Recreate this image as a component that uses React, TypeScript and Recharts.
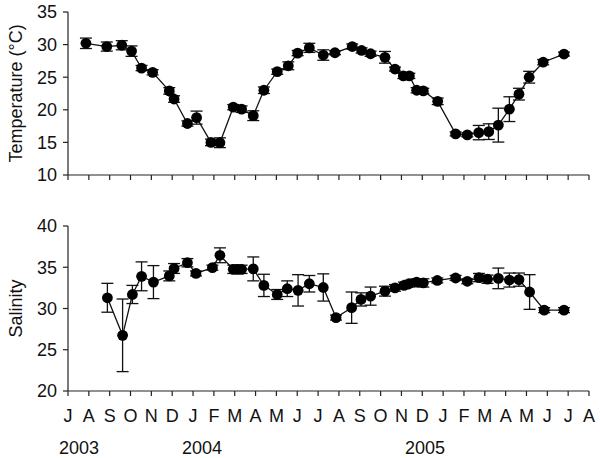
import React from 'react';
import { LineChart, Line, XAxis, YAxis, ErrorBar } from 'recharts';

const monthLabels = ['J','A','S','O','N','D','J','F','M','A','M','J','J','A','S','O','N','D','J','F','M','A','M','J','J','A'];
const monthTicks = monthLabels.map((_, i) => i);
const yearLabels = ['2003', '2004', '2005'];
const yearTicks = [0.53, 6.43, 17.13];

const tempMonths = [0.86, 1.86, 2.58, 3.05, 3.53, 4.06, 4.86, 5.09, 5.73, 6.17, 6.86, 7.29, 7.93, 8.33, 8.89, 9.4, 10.04, 10.57, 11.02, 11.58, 12.25, 12.81, 13.64, 14.09, 14.52, 15.21, 15.69, 16.09, 16.38, 16.73, 17.05, 17.74, 18.6, 19.16, 19.71, 20.19, 20.65, 21.18, 21.64, 22.13, 22.8, 23.8];
const tempValues = [30.2, 29.7, 29.9, 29.0, 26.4, 25.75, 22.9, 21.65, 17.9, 18.8, 15.0, 14.95, 20.4, 20.1, 19.1, 23.0, 25.85, 26.75, 28.7, 29.5, 28.4, 28.75, 29.7, 29.1, 28.6, 28.05, 26.25, 25.2, 25.2, 23.0, 22.9, 21.3, 16.3, 16.15, 16.5, 16.65, 17.65, 20.1, 22.4, 25.0, 27.3, 28.55];
const tempErrors = [0.8, 0.7, 0.7, 0.8, 0.4, 0.4, 0.5, 0.5, 0.4, 1.0, 0.5, 0.75, 0.4, 0.5, 0.75, 0.5, 0.4, 0.6, 0.4, 0.7, 0.8, 0.3, 0.4, 0.4, 0.4, 0.9, 0.3, 0.4, 0.4, 0.4, 0.4, 0.5, 0.3, 0.3, 1.1, 1.2, 2.6, 1.9, 0.9, 0.9, 0.4, 0.3];

const salMonths = [1.89, 2.62, 3.09, 3.53, 4.1, 4.86, 5.09, 5.73, 6.14, 6.93, 7.29, 7.93, 8.13, 8.33, 8.89, 9.4, 10.04, 10.52, 11.04, 11.58, 12.25, 12.86, 13.61, 14.06, 14.52, 15.21, 15.69, 16.12, 16.36, 16.73, 17.05, 17.72, 18.6, 19.16, 19.72, 20.13, 20.65, 21.18, 21.64, 22.15, 22.85, 23.8];
const salValues = [31.3, 26.75, 31.7, 33.9, 33.2, 33.95, 34.85, 35.55, 34.25, 34.95, 36.45, 34.75, 34.75, 34.75, 34.8, 32.8, 31.7, 32.4, 32.2, 33.0, 32.55, 28.9, 30.1, 31.1, 31.5, 32.1, 32.5, 32.8, 33.0, 33.2, 33.1, 33.4, 33.7, 33.3, 33.75, 33.55, 33.65, 33.45, 33.5, 32.0, 29.8, 29.8];
const salErrors = [1.75, 4.4, 1.1, 1.75, 2.0, 0.6, 0.6, 0.5, 0.3, 0.3, 0.9, 0.5, 0.5, 0.5, 1.45, 1.35, 0.6, 0.95, 1.9, 1.0, 1.65, 0.3, 1.9, 0.8, 1.1, 0.6, 0.4, 0.4, 0.4, 0.4, 0.5, 0.3, 0.3, 0.3, 0.5, 0.5, 1.25, 0.85, 0.8, 2.1, 0.3, 0.3];

const tempData = tempMonths.map((m, i) => ({ m, v: tempValues[i], e: tempErrors[i] }));
const salData = salMonths.map((m, i) => ({ m, v: salValues[i], e: salErrors[i] }));

const FONT = '"Liberation Sans", Arial, sans-serif';
const FS = 18;
const INK = '#111';
const AXIS = '#222';
const tickStyle = { fontFamily: FONT, fontSize: FS, fill: INK };

const Dot = (props: any) => {
  const { cx, cy } = props;
  if (cx == null || cy == null) return null;
  return <circle cx={cx} cy={cy} r={5.4} fill="#000" stroke="none" />;
};

const yLabel = (text: string, x: number, y: number) => ({
  content: () => (
    <text
      x={x}
      y={y}
      transform={`rotate(-90 ${x} ${y})`}
      textAnchor="middle"
      dominantBaseline="central"
      style={{ fontFamily: FONT, fontSize: FS, fill: INK }}
    >
      {text}
    </text>
  ),
});

export default function App() {
  return (
    <div style={{ position: 'absolute', left: 0, top: 0, width: 600, height: 458, background: '#fff' }}>
      <div style={{ position: 'absolute', left: 0, top: 0 }}>
        <LineChart width={600} height={200} data={tempData} margin={{ top: 12, right: 11, left: 8, bottom: 5 }}>
          <XAxis
            xAxisId="m"
            dataKey="m"
            type="number"
            domain={[0, 25]}
            ticks={monthTicks}
            interval={0}
            tickFormatter={() => ''}
            tickSize={5}
            height={20}
            stroke={AXIS}
            strokeWidth={1.2}
            allowDataOverflow
          />
          <YAxis
            type="number"
            domain={[10, 35]}
            ticks={[10, 15, 20, 25, 30, 35]}
            interval={0}
            width={60}
            tickSize={5}
            tickMargin={6}
            tick={tickStyle}
            stroke={AXIS}
            strokeWidth={1.2}
            label={yLabel('Temperature (°C)', 15.5, 93.5)}
          />
          <Line
            xAxisId="m"
            dataKey="v"
            stroke="#111"
            strokeWidth={1.3}
            dot={<Dot />}
            activeDot={false}
            isAnimationActive={false}
          >
            <ErrorBar dataKey="e" direction="y" width={6} stroke="#111" strokeWidth={1.3} isAnimationActive={false} />
          </Line>
        </LineChart>
      </div>
      <div style={{ position: 'absolute', left: 0, top: 210 }}>
        <LineChart width={600} height={248} data={salData} margin={{ top: 16, right: 11, left: 8, bottom: 0 }}>
          <XAxis
            xAxisId="m"
            dataKey="m"
            type="number"
            domain={[0, 25]}
            ticks={monthTicks}
            interval={0}
            tickFormatter={(v: number) => monthLabels[Math.round(v)] ?? ''}
            tickSize={5}
            tickMargin={13}
            tick={tickStyle}
            height={30}
            stroke={AXIS}
            strokeWidth={1.2}
            allowDataOverflow
          />
          <XAxis
            xAxisId="y"
            dataKey="m"
            type="number"
            domain={[0, 25]}
            ticks={yearTicks}
            interval={0}
            tickFormatter={(v: number) => yearLabels[yearTicks.indexOf(v)] ?? ''}
            axisLine={false}
            tickLine={false}
            tickSize={0}
            tickMargin={20}
            tick={tickStyle}
            height={37}
            allowDataOverflow
          />
          <YAxis
            type="number"
            domain={[20, 40]}
            ticks={[20, 25, 30, 35, 40]}
            interval={0}
            width={60}
            tickSize={5}
            tickMargin={6}
            tick={tickStyle}
            stroke={AXIS}
            strokeWidth={1.2}
            label={yLabel('Salinity', 15.5, 98.5)}
          />
          <Line
            xAxisId="m"
            dataKey="v"
            stroke="#111"
            strokeWidth={1.3}
            dot={<Dot />}
            activeDot={false}
            isAnimationActive={false}
          >
            <ErrorBar dataKey="e" direction="y" width={6} stroke="#111" strokeWidth={1.3} isAnimationActive={false} />
          </Line>
        </LineChart>
      </div>
    </div>
  );
}
